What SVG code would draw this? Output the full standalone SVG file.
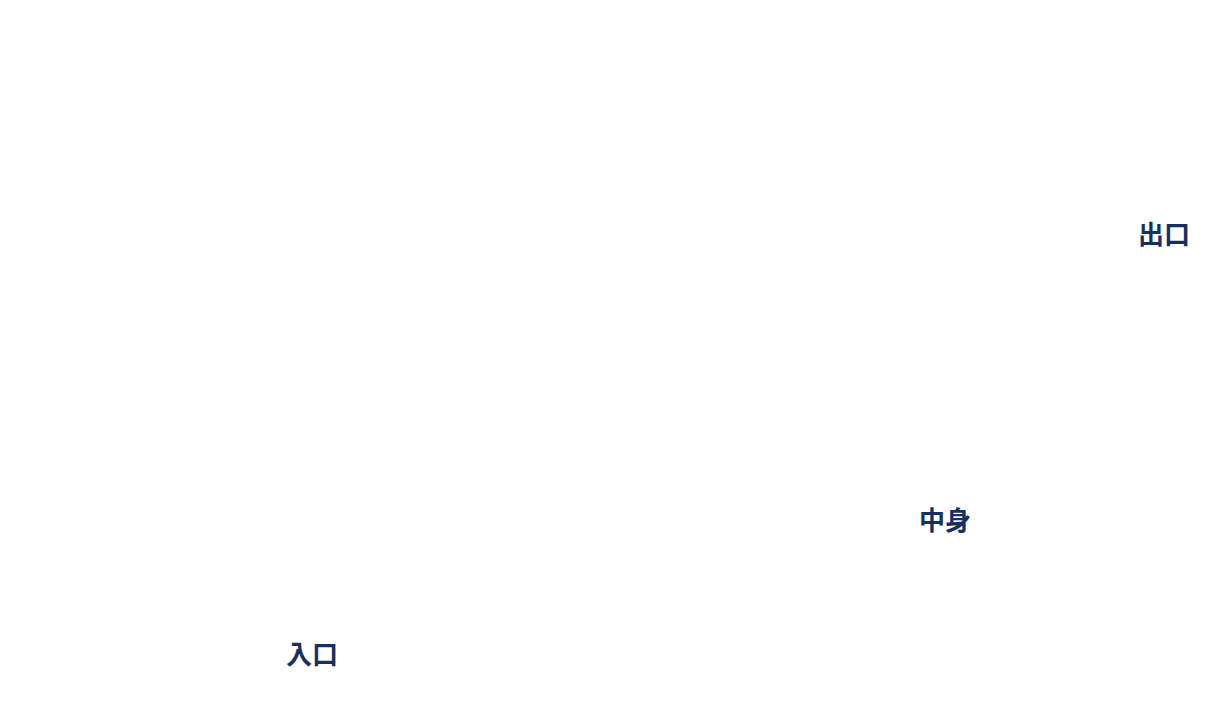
<svg xmlns="http://www.w3.org/2000/svg" width="1210" height="702" viewBox="0 0 1210 702">
<style>
.lbl{font-family:"Noto Sans CJK JP","Noto Sans CJK SC",sans-serif;font-size:26px;font-weight:bold;fill:#17305f}
</style>
<rect width="1210" height="702" fill="#ffffff"/>
<g id="connectors"></g>
<g id="exit"><text class="lbl" x="1138" y="244">出口</text></g>
<g id="body"><text class="lbl" x="919" y="530">中身</text></g>
<g id="entrance"><text class="lbl" x="286" y="664">入口</text></g>
</svg>
